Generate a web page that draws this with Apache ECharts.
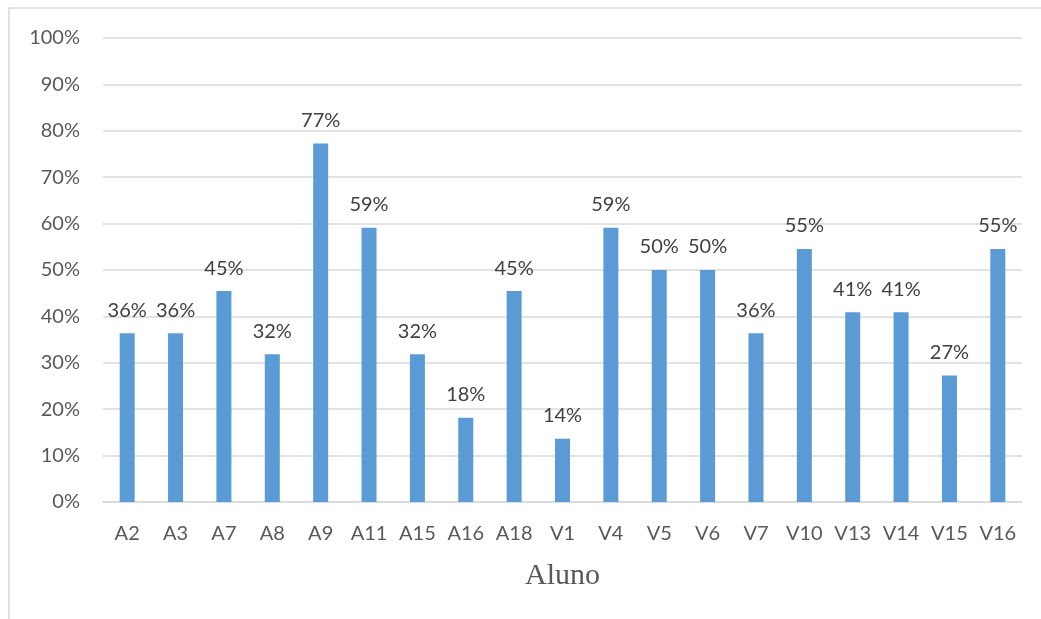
<!DOCTYPE html>
<html>
<head>
<meta charset="utf-8">
<script src="https://cdn.jsdelivr.net/npm/echarts@6/dist/echarts.min.js"></script>
<style>
  html, body { margin: 0; padding: 0; background: #ffffff; }
  #chart { width: 1041px; height: 619px; }
</style>
</head>
<body>
<div id="chart"></div>
<script>
// Share of correct answers per student
const categories = ['A2', 'A3', 'A7', 'A8', 'A9', 'A11', 'A15', 'A16', 'A18', 'V1',
                    'V4', 'V5', 'V6', 'V7', 'V10', 'V13', 'V14', 'V15', 'V16'];
const values = [36.36, 36.36, 45.45, 31.82, 77.27, 59.09, 31.82, 18.18, 45.45, 13.64,
                59.09, 50.00, 50.00, 36.36, 54.55, 40.91, 40.91, 27.27, 54.55];
const yTicks = [0, 10, 20, 30, 40, 50, 60, 70, 80, 90, 100];
const xAxisTitle = 'Aluno';

const uiFont = 'Lato, "Open Sans", sans-serif';

const chart = echarts.init(document.getElementById('chart'), null, { renderer: 'canvas' });

chart.setOption({
  animation: false,
  backgroundColor: '#ffffff',
  graphic: [{
    type: 'rect',
    shape: { x: 9, y: 8, width: 1100, height: 700 },
    style: { fill: 'none', stroke: '#d9d9d9', lineWidth: 1.5 },
    silent: true
  }],
  grid: { left: 103, right: 19, top: 38, bottom: 117, containLabel: false },
  xAxis: {
    type: 'category',
    data: categories,
    axisLine: { show: true, lineStyle: { color: '#d9d9d9', width: 1.5 } },
    axisTick: { show: false },
    axisLabel: { color: '#595959', fontFamily: uiFont, fontSize: 20, margin: 22 },
    name: xAxisTitle,
    nameLocation: 'middle',
    nameGap: 59,
    nameTextStyle: { color: '#595959', fontFamily: '"Liberation Serif", "Times New Roman", serif', fontSize: 30 }
  },
  yAxis: {
    type: 'value',
    min: yTicks[0],
    max: yTicks[yTicks.length - 1],
    interval: 10,
    axisLine: { show: false },
    axisTick: { show: false },
    splitLine: { lineStyle: { color: '#d9d9d9', width: 1.5 } },
    axisLabel: {
      color: '#595959', fontFamily: uiFont, fontSize: 20, margin: 23,
      formatter: v => v + '%'
    }
  },
  series: [{
    type: 'bar',
    data: values,
    barWidth: 15,
    itemStyle: { color: '#5b9bd5' },
    label: {
      show: true,
      position: 'top',
      distance: 13,
      color: '#404040',
      fontFamily: uiFont,
      fontSize: 20,
      formatter: p => Math.round(p.value) + '%'
    }
  }]
});
</script>
</body>
</html>
